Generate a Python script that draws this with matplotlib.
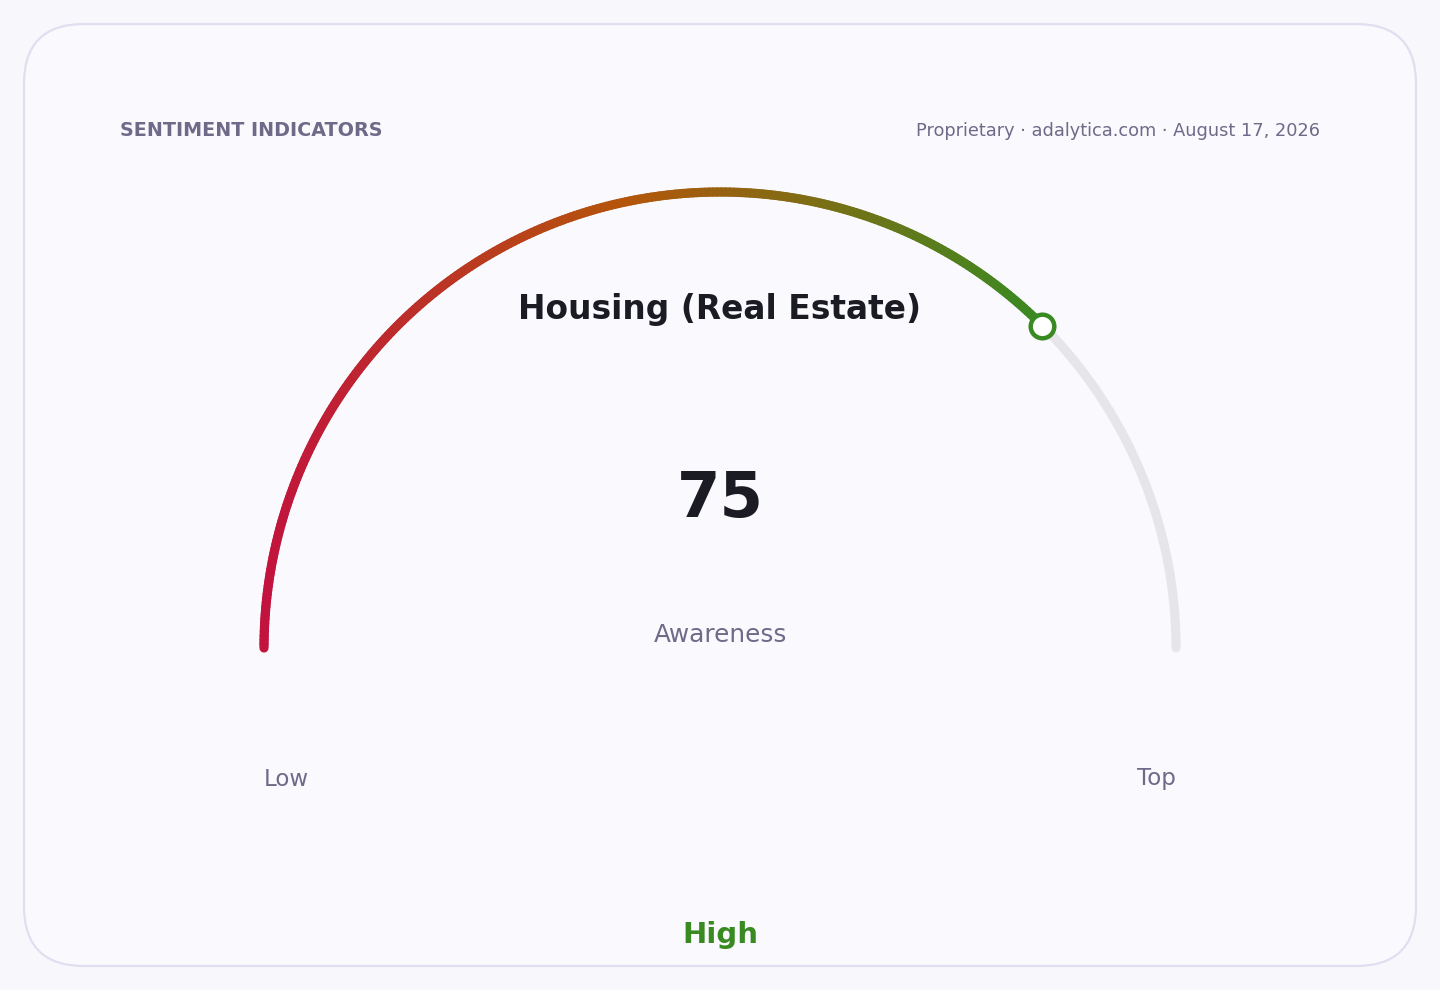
import numpy as np
import matplotlib
matplotlib.use("Agg")
import matplotlib.pyplot as plt
from matplotlib.collections import LineCollection
from matplotlib.colors import LinearSegmentedColormap
from matplotlib.patches import FancyBboxPatch

# ---- data ----
value = 75
v_min, v_max = 0, 100
metric_title = "Housing (Real Estate)"
metric_label = "Awareness"
band_label = "High"
low_label = "Low"
top_label = "Top"
header_left = "SENTIMENT INDICATORS"
header_right = "Proprietary \u00b7 adalytica.com \u00b7 August 17, 2026"
gradient_colors = [(0.0, "#c2133e"), (0.47, "#b4560a"), (1.0, "#3a8a22")]

# ---- style ----
BG = "#f8f8fc"
CARD = "#f9f9fe"
CARD_EDGE = "#e0dff0"
TRACK = "#e5e5ea"
MUTED = "#6e6a88"
DARK = "#1b1b24"
GREEN = "#3a8a22"

W, H = 1440, 990
fig = plt.figure(figsize=(W / 100, H / 100), dpi=100, facecolor=BG)
ax = fig.add_axes([0, 0, 1, 1])
ax.set_xlim(0, W)
ax.set_ylim(H, 0)
ax.axis("off")
ax.set_facecolor(BG)

card = FancyBboxPatch((24, 24), 1392, 942, boxstyle="round,pad=0,rounding_size=60",
                      facecolor=CARD, edgecolor=CARD_EDGE, linewidth=1.6)
ax.add_patch(card)

cx, cy, R = 720, 648, 456
lw = 6.6


def ang(v):
    return np.pi * (1 - (v - v_min) / (v_max - v_min))


def pt(v):
    a = ang(v)
    return cx + R * np.cos(a), cy - R * np.sin(a)


# track
vt = np.linspace(v_min, v_max, 400)
xt, yt = pt(vt)
ax.plot(xt, yt, color=TRACK, lw=lw, solid_capstyle="round", zorder=2)

# gradient fill
vf = np.linspace(v_min, value, 260)
xf, yf = pt(vf)
pts = np.column_stack([xf, yf]).reshape(-1, 1, 2)
segs = np.concatenate([pts[:-1], pts[1:]], axis=1)
cmap = LinearSegmentedColormap.from_list("g", gradient_colors)
xm = 0.5 * (xf[:-1] + xf[1:])
frac = (xm - xf.min()) / (xf.max() - xf.min())
lc = LineCollection(segs, colors=cmap(frac), linewidths=lw, capstyle="round", zorder=3)
ax.add_collection(lc)

# marker
mx, my = pt(value)
ax.plot([mx], [my], "o", ms=17, mfc="white", mec=GREEN, mew=3.2, zorder=5)

# texts
ax.text(120, 130, header_left, ha="left", va="center", fontsize=13.8, fontweight="bold",
        color=MUTED)
ax.text(1320, 131, header_right, ha="right", va="center", fontsize=12.8, color=MUTED)
ax.text(720, 310, metric_title, ha="center", va="center", fontsize=23.7, fontweight="bold",
        color=DARK)
ax.text(720, 500, f"{value}", ha="center", va="center", fontsize=45, fontweight="bold",
        color=DARK)
ax.text(720, 635, metric_label, ha="center", va="center", fontsize=17.8, color=MUTED)
x0, _ = pt(v_min)
x1, _ = pt(v_max)
ax.text(x0, 779, low_label, ha="left", va="center", fontsize=16.5, color=MUTED)
ax.text(x1, 779, top_label, ha="right", va="center", fontsize=16.5, color=MUTED)
ax.text(720, 935, band_label, ha="center", va="center", fontsize=21, fontweight="bold",
        color=GREEN)

fig.savefig("out.png", dpi=100, facecolor=BG)
